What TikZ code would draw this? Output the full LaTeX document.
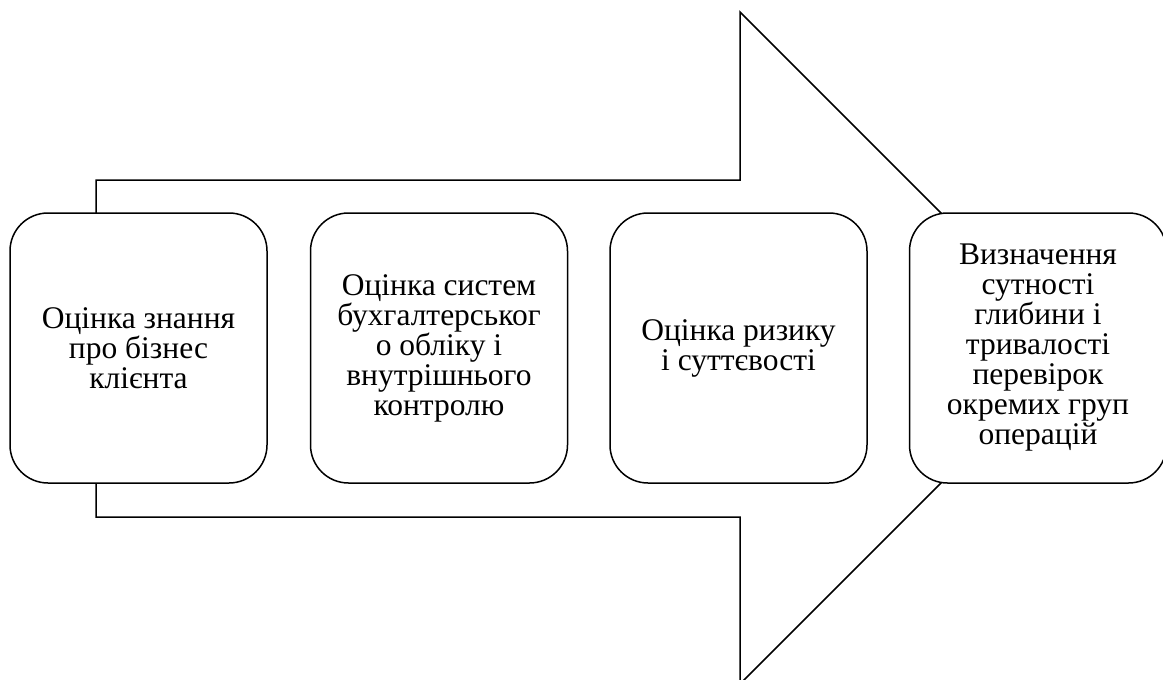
\documentclass[tikz,border=0pt]{standalone}
\usepackage{fontspec}
\setmainfont{Liberation Serif}
\usetikzlibrary{positioning}

\tikzset{
  stage/.style={draw, fill=white, line width=1.5pt, rounded corners=38pt,
    minimum width=257pt, minimum height=270pt, align=center,
    font=\fontsize{31.5}{30}\selectfont, inner sep=0pt},
  bigarrow/.style={draw, line width=1.5pt, line join=miter}
}

\begin{document}
\begin{tikzpicture}[x=1pt,y=-1pt]
\useasboundingbox (0,0) rectangle (1163,680);

% the large arrow behind the stages
\draw[bigarrow] (96,180) -- (740,180) -- (740,12) -- (1076,348) -- (740,684)
  -- (740,517) -- (96,517) -- cycle;

\node[stage] (know) at (138.5,348) {Оцінка знання\\про бізнес\\клієнта};
\node[stage, right=42pt of know] (acct) {Оцінка систем\\бухгалтерськог\\о обліку і\\внутрішнього\\контролю};
\node[stage, right=41pt of acct] (risk) {Оцінка ризику\\і суттєвості};
\node[stage, right=41pt of risk] (scope) {Визначення\\сутності\\глибини і\\тривалості\\перевірок\\окремих груп\\операцій};

\end{tikzpicture}
\end{document}
